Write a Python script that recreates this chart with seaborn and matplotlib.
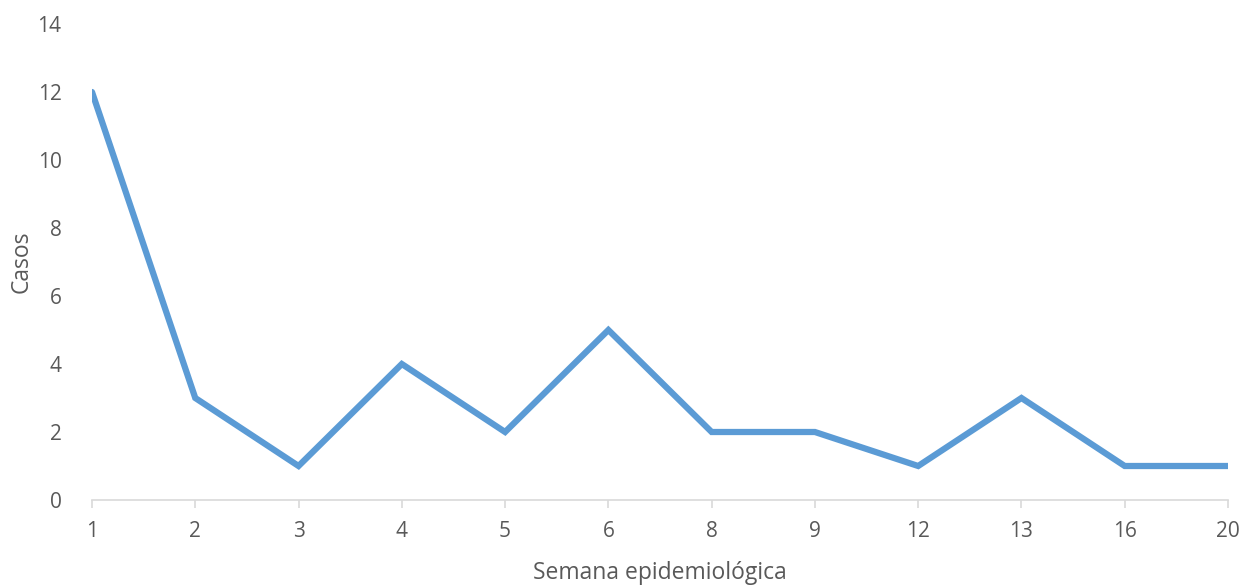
import pandas as pd
import matplotlib.pyplot as plt
import seaborn as sns

semanas = ["1", "2", "3", "4", "5", "6", "8", "9", "12", "13", "16", "20"]
casos = [12, 3, 1, 4, 2, 5, 2, 2, 1, 3, 1, 1]
y_ticks = [0, 2, 4, 6, 8, 10, 12, 14]

df = pd.DataFrame({"Semana": semanas, "Casos": casos})

sns.set_theme(style="white")
plt.rcParams["font.family"] = ["Open Sans", "DejaVu Sans"]

fig = plt.figure(figsize=(12.57, 5.86), dpi=100)
ax = fig.add_axes([92 / 1257, 86 / 586, (1228 - 92) / 1257, (500 - 24) / 586])

sns.lineplot(data=df, x="Semana", y="Casos", sort=False, ax=ax,
             color="#5B9BD5", linewidth=4.5, solid_joinstyle="miter")

ax.set_xlim(0, len(semanas) - 1)
ax.set_ylim(0, 14)
ax.set_yticks(y_ticks)
ax.set_yticklabels([str(v) for v in y_ticks])

for side in ["top", "right", "left"]:
    ax.spines[side].set_visible(False)
ax.spines["bottom"].set_color("#D9D9D9")
ax.spines["bottom"].set_linewidth(1.2)

ax.tick_params(axis="x", which="both", bottom=True, length=6, width=1.2,
               color="#D9D9D9", labelsize=15, labelcolor="#595959", pad=9)
ax.tick_params(axis="y", left=False, labelsize=15, labelcolor="#595959", pad=16)
ax.grid(False)

ax.set_xlabel("Semana epidemiológica", fontsize=16.5, color="#595959", labelpad=14)
ax.set_ylabel("Casos", fontsize=16.5, color="#595959", va="center")
# place the y label at a fixed spot so it is not pushed off the canvas
ax.yaxis.set_label_coords((22 - 92) / 1136, 0.5)
ax.set_facecolor("white")
for t in ax.get_xticklabels() + ax.get_yticklabels():
    t.set_clip_on(False)

plt.savefig("out.png", dpi=100, facecolor="white")
